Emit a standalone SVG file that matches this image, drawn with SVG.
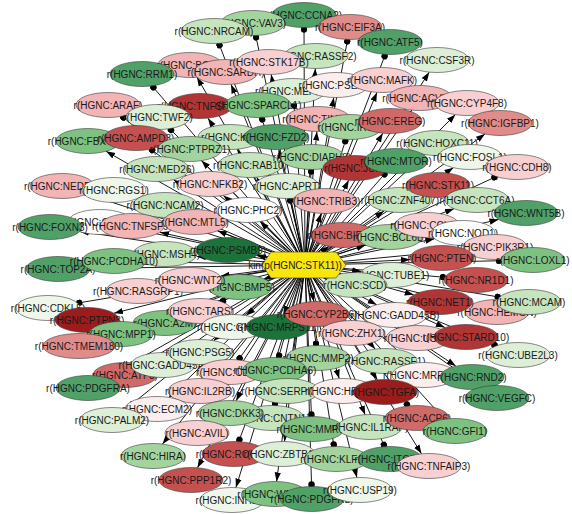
<svg xmlns="http://www.w3.org/2000/svg" width="572" height="514" viewBox="0 0 572 514">
<style>
.bg{fill:#ffffff}
#edges line{stroke:#000;stroke-width:0.9}
#edges line.a{marker-end:url(#ar)}
#edges line.d{marker-end:url(#dt)}
.n ellipse{stroke:#3a3a3a;stroke-width:0.6}
.n text{font-family:"Liberation Sans",Arial,sans-serif;font-size:10px;fill:#1a1a1a;text-anchor:middle}
.k0{fill:#1b733a}.k1{fill:#50a168}.k2{fill:#7dc280}.k3{fill:#a3d49e}.k4{fill:#c6e5bf}.k5{fill:#ddefd7}.k6{fill:#eef7ea}.k7{fill:#fdfdfd}
.k8{fill:#fdeeee}.k9{fill:#f9d0d1}.k10{fill:#f2b4b4}.k11{fill:#e08c8a}.k12{fill:#d06a68}.k13{fill:#c4514f}.k14{fill:#b23535}.k15{fill:#9c1c1c}
#hub path{fill:#f8e60c;stroke:#3a3a3a;stroke-width:0.6}
#hub text{font-family:"Liberation Sans",Arial,sans-serif;font-size:10px;fill:#1a1a1a;text-anchor:middle}
</style>
<defs>
<marker id="ar" viewBox="0 0 10 10" refX="10" refY="5" markerWidth="9" markerHeight="9" markerUnits="userSpaceOnUse" orient="auto"><path d="M0,1.5L10,5L0,8.5z" fill="#000"/></marker>
<marker id="dt" viewBox="0 0 10 10" refX="8" refY="5" markerWidth="6.5" markerHeight="6.5" markerUnits="userSpaceOnUse" orient="auto"><circle cx="5" cy="5" r="5" fill="#000"/></marker>
</defs>
<rect class="bg" width="572" height="514"/>
<g id="edges">
<line class="d" x1="305" y1="265" x2="218.8" y2="43.4"/>
<line class="d" x1="305" y1="265" x2="255.7" y2="35.5"/>
<line class="d" x1="305" y1="265" x2="304" y2="27.5"/>
<line class="d" x1="305" y1="265" x2="347.6" y2="39.5"/>
<line class="d" x1="305" y1="265" x2="385.3" y2="54.4"/>
<line class="a" x1="305" y1="265" x2="429.2" y2="72.2"/>
<line class="a" x1="305" y1="265" x2="376.9" y2="92.4"/>
<line class="a" x1="305" y1="265" x2="411.7" y2="110.1"/>
<line class="a" x1="305" y1="265" x2="455.4" y2="114.6"/>
<line class="a" x1="305" y1="265" x2="485" y2="134"/>
<line class="a" x1="305" y1="265" x2="382.8" y2="133.2"/>
<line class="a" x1="305" y1="265" x2="197" y2="77.2"/>
<line class="d" x1="305" y1="265" x2="152.1" y2="85.9"/>
<line class="d" x1="305" y1="265" x2="121.9" y2="116.3"/>
<line class="d" x1="305" y1="265" x2="169.6" y2="128.6"/>
<line class="a" x1="305" y1="265" x2="208" y2="118.2"/>
<line class="d" x1="305" y1="265" x2="261.7" y2="117.5"/>
<line class="a" x1="305" y1="265" x2="231.1" y2="84.4"/>
<line class="a" x1="305" y1="265" x2="271.2" y2="74.5"/>
<line class="a" x1="305" y1="265" x2="315.3" y2="68.5"/>
<line class="d" x1="305" y1="265" x2="293.9" y2="103.5"/>
<line class="a" x1="305" y1="265" x2="333.8" y2="97.5"/>
<line class="a" x1="305" y1="265" x2="316.9" y2="131.5"/>
<line class="d" x1="305" y1="265" x2="345.9" y2="139.4"/>
<line class="a" x1="305" y1="265" x2="237.2" y2="149.3"/>
<line class="a" x1="305" y1="265" x2="278.8" y2="149.5"/>
<line class="a" x1="305" y1="265" x2="201.5" y2="160.6"/>
<line class="d" x1="305" y1="265" x2="150.6" y2="149"/>
<line class="a" x1="305" y1="265" x2="106.1" y2="151.3"/>
<line class="a" x1="305" y1="265" x2="173.6" y2="179.8"/>
<line class="a" x1="305" y1="265" x2="86.5" y2="194"/>
<line class="a" x1="305" y1="265" x2="136.6" y2="198.9"/>
<line class="a" x1="305" y1="265" x2="186.6" y2="214.3"/>
<line class="a" x1="305" y1="265" x2="223.3" y2="195.4"/>
<line class="a" x1="305" y1="265" x2="256.7" y2="177.3"/>
<line class="d" x1="305" y1="265" x2="311.2" y2="169.5"/>
<line class="a" x1="305" y1="265" x2="348.7" y2="180.3"/>
<line class="d" x1="305" y1="265" x2="385.7" y2="172.8"/>
<line class="d" x1="305" y1="265" x2="289.8" y2="198.5"/>
<line class="a" x1="305" y1="265" x2="321.1" y2="213.4"/>
<line class="a" x1="305" y1="265" x2="384" y2="211"/>
<line class="a" x1="305" y1="265" x2="260" y2="221.5"/>
<line class="a" x1="305" y1="265" x2="217.6" y2="230.8"/>
<line class="a" x1="305" y1="265" x2="256.8" y2="255.6"/>
<line class="a" x1="305" y1="265" x2="328.8" y2="246.2"/>
<line class="a" x1="305" y1="265" x2="365.5" y2="245.1"/>
<line class="a" x1="305" y1="265" x2="424.5" y2="154.5"/>
<line class="a" x1="305" y1="265" x2="453.4" y2="167.8"/>
<line class="d" x1="305" y1="265" x2="496.2" y2="176.6"/>
<line class="a" x1="305" y1="265" x2="420.5" y2="195.5"/>
<line class="a" x1="305" y1="265" x2="454" y2="208.7"/>
<line class="a" x1="305" y1="265" x2="498.5" y2="219.5"/>
<line class="a" x1="305" y1="265" x2="402.5" y2="233"/>
<line class="a" x1="305" y1="265" x2="434.5" y2="238.8"/>
<line class="a" x1="305" y1="265" x2="463.9" y2="249.9"/>
<line class="d" x1="305" y1="265" x2="501" y2="260.7"/>
<line class="a" x1="305" y1="265" x2="410" y2="259.6"/>
<line class="d" x1="305" y1="265" x2="444.8" y2="277.3"/>
<line class="a" x1="305" y1="265" x2="361.2" y2="271.5"/>
<line class="a" x1="305" y1="265" x2="413.7" y2="294.8"/>
<line class="d" x1="305" y1="265" x2="499.6" y2="297.1"/>
<line class="a" x1="305" y1="265" x2="469.8" y2="305.3"/>
<line class="a" x1="305" y1="265" x2="376.6" y2="304.8"/>
<line class="a" x1="305" y1="265" x2="401.4" y2="327.2"/>
<line class="a" x1="305" y1="265" x2="444.8" y2="327.5"/>
<line class="d" x1="305" y1="265" x2="496.3" y2="345.8"/>
<line class="a" x1="305" y1="265" x2="343.6" y2="320.8"/>
<line class="a" x1="305" y1="265" x2="375.1" y2="349.1"/>
<line class="a" x1="305" y1="265" x2="411.5" y2="363.5"/>
<line class="a" x1="305" y1="265" x2="455.8" y2="366.1"/>
<line class="a" x1="305" y1="265" x2="377.3" y2="379.8"/>
<line class="a" x1="305" y1="265" x2="481.1" y2="387"/>
<line class="d" x1="305" y1="265" x2="408.1" y2="405.9"/>
<line class="a" x1="305" y1="265" x2="444.3" y2="419.2"/>
<line class="a" x1="305" y1="265" x2="365.1" y2="414.7"/>
<line class="d" x1="305" y1="265" x2="384.6" y2="446.7"/>
<line class="a" x1="305" y1="265" x2="421.5" y2="453.8"/>
<line class="a" x1="305" y1="265" x2="356.9" y2="477.5"/>
<line class="a" x1="305" y1="265" x2="209.9" y2="379.1"/>
<line class="a" x1="305" y1="265" x2="288.8" y2="378.4"/>
<line class="a" x1="305" y1="265" x2="339.2" y2="378.6"/>
<line class="a" x1="305" y1="265" x2="236.2" y2="400.7"/>
<line class="d" x1="305" y1="265" x2="274.7" y2="405.5"/>
<line class="d" x1="305" y1="265" x2="311.5" y2="416.5"/>
<line class="a" x1="305" y1="265" x2="204.8" y2="420.8"/>
<line class="d" x1="305" y1="265" x2="238.7" y2="441.6"/>
<line class="a" x1="305" y1="265" x2="284.5" y2="441.6"/>
<line class="d" x1="305" y1="265" x2="334" y2="446.5"/>
<line class="a" x1="305" y1="265" x2="197.5" y2="467.7"/>
<line class="a" x1="305" y1="265" x2="162.5" y2="444"/>
<line class="a" x1="305" y1="265" x2="126" y2="408.8"/>
<line class="a" x1="305" y1="265" x2="168.9" y2="397.4"/>
<line class="a" x1="305" y1="265" x2="106.2" y2="377.7"/>
<line class="a" x1="305" y1="265" x2="142.2" y2="364.5"/>
<line class="a" x1="305" y1="265" x2="235.9" y2="487.6"/>
<line class="a" x1="305" y1="265" x2="276.6" y2="481.4"/>
<line class="d" x1="305" y1="265" x2="311.6" y2="486.5"/>
<line class="a" x1="305" y1="265" x2="90" y2="268.5"/>
<line class="a" x1="305" y1="265" x2="146" y2="261.7"/>
<line class="a" x1="305" y1="265" x2="196.9" y2="256.5"/>
<line class="a" x1="305" y1="265" x2="220.7" y2="276"/>
<line class="a" x1="305" y1="265" x2="167.7" y2="286.4"/>
<line class="d" x1="305" y1="265" x2="77.4" y2="303.1"/>
<line class="a" x1="305" y1="265" x2="114" y2="313.2"/>
<line class="a" x1="305" y1="265" x2="144" y2="325.4"/>
<line class="a" x1="305" y1="265" x2="187" y2="313.9"/>
<line class="d" x1="305" y1="265" x2="221.3" y2="301.7"/>
<line class="a" x1="305" y1="265" x2="102.5" y2="337.6"/>
<line class="a" x1="305" y1="265" x2="178.6" y2="354"/>
<line class="a" x1="305" y1="265" x2="213.6" y2="340.7"/>
<line class="a" x1="305" y1="265" x2="264" y2="278.8"/>
<line class="a" x1="305" y1="265" x2="332.7" y2="276.1"/>
<line class="a" x1="305" y1="265" x2="313.9" y2="301.5"/>
<line class="a" x1="305" y1="265" x2="283.4" y2="314.7"/>
<line class="a" x1="305" y1="265" x2="246.2" y2="315.6"/>
<line class="d" x1="305" y1="265" x2="316.3" y2="345.6"/>
<line class="d" x1="305" y1="265" x2="278.6" y2="357.5"/>
<line class="d" x1="305" y1="265" x2="238.5" y2="359.9"/>
<line class="a" x1="305" y1="265" x2="79.9" y2="231.4"/>
<line class="a" x1="305" y1="265" x2="128.4" y2="227.9"/>
<line class="a" x1="305" y1="265" x2="160" y2="232.3"/>
</g>
<g id="nodes">
<g class="n" id="n-CCNA2"><ellipse class="k1" cx="304" cy="15" rx="32" ry="12.5"/><text x="304" y="18.5">r(HGNC:CCNA2)</text></g>
<g class="n" id="n-VAV3"><ellipse class="k3" cx="253" cy="23" rx="32" ry="12.5"/><text x="253" y="26.5">r(HGNC:VAV3)</text></g>
<g class="n" id="n-NRCAM"><ellipse class="k4" cx="214" cy="31" rx="33" ry="12.5"/><text x="214" y="34.5">r(HGNC:NRCAM)</text></g>
<g class="n" id="n-EIF3A"><ellipse class="k11" cx="350" cy="27" rx="32" ry="12.5"/><text x="350" y="30.5">r(HGNC:EIF3A)</text></g>
<g class="n" id="n-ATF5"><ellipse class="k1" cx="390" cy="42" rx="32" ry="12.5"/><text x="390" y="45.5">r(HGNC:ATF5)</text></g>
<g class="n" id="n-CSF3R"><ellipse class="k5" cx="437" cy="60" rx="32" ry="12.5"/><text x="437" y="63.5">r(HGNC:CSF3R)</text></g>
<g class="n" id="n-BCL2"><ellipse class="k10" cx="190" cy="65" rx="32" ry="12.5"/><text x="190" y="68.5">r(HGNC:BCL2)</text></g>
<g class="n" id="n-RRM1"><ellipse class="k1" cx="142" cy="74" rx="32" ry="12.5"/><text x="142" y="77.5">r(HGNC:RRM1)</text></g>
<g class="n" id="n-SARDH"><ellipse class="k10" cx="226" cy="72" rx="32" ry="12.5"/><text x="226" y="75.5">r(HGNC:SARDH)</text></g>
<g class="n" id="n-RASSF2"><ellipse class="k4" cx="316" cy="56" rx="32" ry="12.5"/><text x="316" y="59.5">r(HGNC:RASSF2)</text></g>
<g class="n" id="n-STK17B"><ellipse class="k9" cx="269" cy="62" rx="32" ry="12.5"/><text x="269" y="65.5">r(HGNC:STK17B)</text></g>
<g class="n" id="n-MEF2C"><ellipse class="k5" cx="293" cy="91" rx="32" ry="12.5"/><text x="293" y="94.5">r(HGNC:MEF2C)</text></g>
<g class="n" id="n-PSEN1"><ellipse class="k8" cx="336" cy="85" rx="32" ry="12.5"/><text x="336" y="88.5">r(HGNC:PSEN1)</text></g>
<g class="n" id="n-MAFK"><ellipse class="k9" cx="382" cy="80" rx="32" ry="12.5"/><text x="382" y="83.5">r(HGNC:MAFK)</text></g>
<g class="n" id="n-ACVR1"><ellipse class="k10" cx="420" cy="98" rx="32" ry="12.5"/><text x="420" y="101.5">r(HGNC:ACVR1)</text></g>
<g class="n" id="n-CYP4F8"><ellipse class="k9" cx="467" cy="103" rx="32" ry="12.5"/><text x="467" y="106.5">r(HGNC:CYP4F8)</text></g>
<g class="n" id="n-IGFBP1"><ellipse class="k11" cx="500" cy="123" rx="32" ry="12.5"/><text x="500" y="126.5">r(HGNC:IGFBP1)</text></g>
<g class="n" id="n-ARAF"><ellipse class="k10" cx="108" cy="105" rx="32" ry="12.5"/><text x="108" y="108.5">r(HGNC:ARAF)</text></g>
<g class="n" id="n-TNFSF10"><ellipse class="k14" cx="200" cy="106" rx="32" ry="12.5"/><text x="200" y="109.5">r(HGNC:TNFSF10)</text></g>
<g class="n" id="n-TWF2"><ellipse class="k5" cx="158" cy="117" rx="32" ry="12.5"/><text x="158" y="120.5">r(HGNC:TWF2)</text></g>
<g class="n" id="n-SPARCL1"><ellipse class="k2" cx="258" cy="105" rx="33" ry="12.5"/><text x="258" y="108.5">r(HGNC:SPARCL1)</text></g>
<g class="n" id="n-TIMP3"><ellipse class="k10" cx="318" cy="119" rx="32" ry="12.5"/><text x="318" y="122.5">r(HGNC:TIMP3)</text></g>
<g class="n" id="n-IRS1"><ellipse class="k3" cx="350" cy="127" rx="32" ry="12.5"/><text x="350" y="130.5">r(HGNC:IRS1)</text></g>
<g class="n" id="n-EREG"><ellipse class="k12" cx="390" cy="121" rx="32" ry="12.5"/><text x="390" y="124.5">r(HGNC:EREG)</text></g>
<g class="n" id="n-FBXO32"><ellipse class="k2" cx="88" cy="141" rx="32" ry="12.5"/><text x="88" y="144.5">r(HGNC:FBXO32)</text></g>
<g class="n" id="n-AMPD3"><ellipse class="k13" cx="136" cy="138" rx="32" ry="12.5"/><text x="136" y="141.5">r(HGNC:AMPD3)</text></g>
<g class="n" id="n-KIT"><ellipse class="k4" cx="230" cy="137" rx="32" ry="12.5"/><text x="230" y="140.5">r(HGNC:KIT)</text></g>
<g class="n" id="n-FZD2"><ellipse class="k1" cx="276" cy="137" rx="32" ry="12.5"/><text x="276" y="140.5">r(HGNC:FZD2)</text></g>
<g class="n" id="n-PTPRZ1"><ellipse class="k3" cx="190" cy="149" rx="32" ry="12.5"/><text x="190" y="152.5">r(HGNC:PTPRZ1)</text></g>
<g class="n" id="n-HOXC11"><ellipse class="k4" cx="437" cy="143" rx="32" ry="12.5"/><text x="437" y="146.5">r(HGNC:HOXC11)</text></g>
<g class="n" id="n-FOSL1"><ellipse class="k6" cx="470" cy="157" rx="32" ry="12.5"/><text x="470" y="160.5">r(HGNC:FOSL1)</text></g>
<g class="n" id="n-CDH8"><ellipse class="k9" cx="517" cy="167" rx="32" ry="12.5"/><text x="517" y="170.5">r(HGNC:CDH8)</text></g>
<g class="n" id="n-MED26"><ellipse class="k4" cx="157" cy="169" rx="32" ry="12.5"/><text x="157" y="172.5">r(HGNC:MED26)</text></g>
<g class="n" id="n-RAB10"><ellipse class="k4" cx="250" cy="165" rx="32" ry="12.5"/><text x="250" y="168.5">r(HGNC:RAB10)</text></g>
<g class="n" id="n-DIAPH3"><ellipse class="k3" cx="312" cy="157" rx="32" ry="12.5"/><text x="312" y="160.5">r(HGNC:DIAPH3)</text></g>
<g class="n" id="n-JUN"><ellipse class="k14" cx="355" cy="168" rx="32" ry="12.5"/><text x="355" y="171.5">r(HGNC:JUN)</text></g>
<g class="n" id="n-MTOR"><ellipse class="k1" cx="396" cy="161" rx="32" ry="12.5"/><text x="396" y="164.5">r(HGNC:MTOR)</text></g>
<g class="n" id="n-NEDD9"><ellipse class="k10" cx="62" cy="186" rx="32" ry="12.5"/><text x="62" y="189.5">r(HGNC:NEDD9)</text></g>
<g class="n" id="n-RGS1"><ellipse class="k6" cx="114" cy="190" rx="32" ry="12.5"/><text x="114" y="193.5">r(HGNC:RGS1)</text></g>
<g class="n" id="n-NCAM2"><ellipse class="k4" cx="165" cy="205" rx="32" ry="12.5"/><text x="165" y="208.5">r(HGNC:NCAM2)</text></g>
<g class="n" id="n-NFKB2"><ellipse class="k9" cx="210" cy="184" rx="32" ry="12.5"/><text x="210" y="187.5">r(HGNC:NFKB2)</text></g>
<g class="n" id="n-APRT"><ellipse class="k5" cx="287" cy="186" rx="32" ry="12.5"/><text x="287" y="189.5">r(HGNC:APRT)</text></g>
<g class="n" id="n-TRIB3"><ellipse class="k10" cx="325" cy="201" rx="32" ry="12.5"/><text x="325" y="204.5">r(HGNC:TRIB3)</text></g>
<g class="n" id="n-ZNF407"><ellipse class="k4" cx="400" cy="200" rx="32" ry="12.5"/><text x="400" y="203.5">r(HGNC:ZNF407)</text></g>
<g class="n" id="n-STK11"><ellipse class="k13" cx="438" cy="185" rx="32" ry="12.5"/><text x="438" y="188.5">r(HGNC:STK11)</text></g>
<g class="n" id="n-CCT6A"><ellipse class="k4" cx="477" cy="200" rx="32" ry="12.5"/><text x="477" y="203.5">r(HGNC:CCT6A)</text></g>
<g class="n" id="n-WNT5B"><ellipse class="k1" cx="526" cy="213" rx="32" ry="12.5"/><text x="526" y="216.5">r(HGNC:WNT5B)</text></g>
<g class="n" id="n-CFLAR"><ellipse class="k7" cx="100" cy="222" rx="32" ry="12.5"/><text x="100" y="225.5">r(HGNC:CFLAR)</text></g>
<g class="n" id="n-FOXN3"><ellipse class="k1" cx="50" cy="227" rx="32" ry="12.5"/><text x="50" y="230.5">r(HGNC:FOXN3)</text></g>
<g class="n" id="n-TNFSF9"><ellipse class="k10" cx="132" cy="226" rx="32" ry="12.5"/><text x="132" y="229.5">r(HGNC:TNFSF9)</text></g>
<g class="n" id="n-MTL5"><ellipse class="k10" cx="195" cy="222" rx="32" ry="12.5"/><text x="195" y="225.5">r(HGNC:MTL5)</text></g>
<g class="n" id="n-PHC2"><ellipse class="k7" cx="248" cy="210" rx="32" ry="12.5"/><text x="248" y="213.5">r(HGNC:PHC2)</text></g>
<g class="n" id="n-MSH4"><ellipse class="k4" cx="165" cy="254" rx="32" ry="12.5"/><text x="165" y="257.5">r(HGNC:MSH4)</text></g>
<g class="n" id="n-PSMB9"><ellipse class="k0" cx="228" cy="250" rx="32" ry="12.5"/><text x="228" y="253.5">r(HGNC:PSMB9)</text></g>
<g class="n" id="n-BIRC3"><ellipse class="k12" cx="343" cy="235" rx="32" ry="12.5"/><text x="343" y="238.5">r(HGNC:BIRC3)</text></g>
<g class="n" id="n-BCL6B"><ellipse class="k3" cx="390" cy="237" rx="32" ry="12.5"/><text x="390" y="240.5">r(HGNC:BCL6B)</text></g>
<g class="n" id="n-CCL18"><ellipse class="k9" cx="427" cy="225" rx="32" ry="12.5"/><text x="427" y="228.5">r(HGNC:CCL18)</text></g>
<g class="n" id="n-NOD1"><ellipse class="k7" cx="463" cy="233" rx="32" ry="12.5"/><text x="463" y="236.5">r(HGNC:NOD1)</text></g>
<g class="n" id="n-PIK3R1"><ellipse class="k9" cx="495" cy="247" rx="32" ry="12.5"/><text x="495" y="250.5">r(HGNC:PIK3R1)</text></g>
<g class="n" id="n-LOXL1"><ellipse class="k2" cx="533" cy="260" rx="32" ry="12.5"/><text x="533" y="263.5">r(HGNC:LOXL1)</text></g>
<g class="n" id="n-PTEN"><ellipse class="k13" cx="442" cy="258" rx="32" ry="12.5"/><text x="442" y="261.5">r(HGNC:PTEN)</text></g>
<g class="n" id="n-TOP2A"><ellipse class="k1" cx="58" cy="269" rx="32" ry="12.5"/><text x="58" y="272.5">r(HGNC:TOP2A)</text></g>
<g class="n" id="n-PCDHA10"><ellipse class="k2" cx="114" cy="261" rx="32" ry="12.5"/><text x="114" y="264.5">r(HGNC:PCDHA10)</text></g>
<g class="n" id="n-TUBE1"><ellipse class="k5" cx="392" cy="275" rx="32" ry="12.5"/><text x="392" y="278.5">r(HGNC:TUBE1)</text></g>
<g class="n" id="n-NR1D1"><ellipse class="k13" cx="476" cy="280" rx="32" ry="12.5"/><text x="476" y="283.5">r(HGNC:NR1D1)</text></g>
<g class="n" id="n-SCD"><ellipse class="k4" cx="355" cy="285" rx="32" ry="12.5"/><text x="355" y="288.5">r(HGNC:SCD)</text></g>
<g class="n" id="n-BMP5"><ellipse class="k2" cx="240" cy="287" rx="32" ry="12.5"/><text x="240" y="290.5">r(HGNC:BMP5)</text></g>
<g class="n" id="n-RASGRP1"><ellipse class="k9" cx="138" cy="291" rx="32" ry="12.5"/><text x="138" y="294.5">r(HGNC:RASGRP1)</text></g>
<g class="n" id="n-WNT2"><ellipse class="k9" cx="190" cy="280" rx="32" ry="12.5"/><text x="190" y="283.5">r(HGNC:WNT2)</text></g>
<g class="n" id="n-CDKL5"><ellipse class="k6" cx="48" cy="308" rx="32" ry="12.5"/><text x="48" y="311.5">r(HGNC:CDKL5)</text></g>
<g class="n" id="n-PTPN3"><ellipse class="k15" cx="87" cy="320" rx="32" ry="12.5"/><text x="87" y="323.5">r(HGNC:PTPN3)</text></g>
<g class="n" id="n-A2M"><ellipse class="k2" cx="165" cy="323" rx="32" ry="12.5"/><text x="165" y="326.5">r(HGNC:A2M)</text></g>
<g class="n" id="n-MPP1"><ellipse class="k2" cx="121" cy="334" rx="32" ry="12.5"/><text x="121" y="337.5">r(HGNC:MPP1)</text></g>
<g class="n" id="n-TARS"><ellipse class="k9" cx="200" cy="311" rx="32" ry="12.5"/><text x="200" y="314.5">r(HGNC:TARS)</text></g>
<g class="n" id="n-TMEM180"><ellipse class="k11" cx="79" cy="346" rx="36" ry="12.5"/><text x="79" y="349.5">r(HGNC:TMEM180)</text></g>
<g class="n" id="n-HEMGN"><ellipse class="k10" cx="497" cy="312" rx="32" ry="12.5"/><text x="497" y="315.5">r(HGNC:HEMGN)</text></g>
<g class="n" id="n-NET1"><ellipse class="k14" cx="440" cy="302" rx="32" ry="12.5"/><text x="440" y="305.5">r(HGNC:NET1)</text></g>
<g class="n" id="n-MCAM"><ellipse class="k4" cx="529" cy="302" rx="32" ry="12.5"/><text x="529" y="305.5">r(HGNC:MCAM)</text></g>
<g class="n" id="n-GADD45B"><ellipse class="k8" cx="395" cy="315" rx="32" ry="12.5"/><text x="395" y="318.5">r(HGNC:GADD45B)</text></g>
<g class="n" id="n-GNAI1"><ellipse class="k6" cx="233" cy="327" rx="32" ry="12.5"/><text x="233" y="330.5">r(HGNC:GNAI1)</text></g>
<g class="n" id="n-MRPS11"><ellipse class="k0" cx="278" cy="327" rx="32" ry="12.5"/><text x="278" y="330.5">r(HGNC:MRPS11)</text></g>
<g class="n" id="n-CYP2B6"><ellipse class="k12" cx="317" cy="314" rx="32" ry="12.5"/><text x="317" y="317.5">r(HGNC:CYP2B6)</text></g>
<g class="n" id="n-ZHX1"><ellipse class="k9" cx="352" cy="333" rx="32" ry="12.5"/><text x="352" y="336.5">r(HGNC:ZHX1)</text></g>
<g class="n" id="n-USP2"><ellipse class="k9" cx="418" cy="338" rx="32" ry="12.5"/><text x="418" y="341.5">r(HGNC:USP2)</text></g>
<g class="n" id="n-STARD10"><ellipse class="k14" cx="466" cy="337" rx="32" ry="12.5"/><text x="466" y="340.5">r(HGNC:STARD10)</text></g>
<g class="n" id="n-UBE2L3"><ellipse class="k5" cx="518" cy="355" rx="32" ry="12.5"/><text x="518" y="358.5">r(HGNC:UBE2L3)</text></g>
<g class="n" id="n-ATF3"><ellipse class="k12" cx="125" cy="375" rx="32" ry="12.5"/><text x="125" y="378.5">r(HGNC:ATF3)</text></g>
<g class="n" id="n-GADD45A"><ellipse class="k5" cx="163" cy="365" rx="32" ry="12.5"/><text x="163" y="368.5">r(HGNC:GADD45A)</text></g>
<g class="n" id="n-PSG5"><ellipse class="k5" cx="200" cy="352" rx="32" ry="12.5"/><text x="200" y="355.5">r(HGNC:PSG5)</text></g>
<g class="n" id="n-CD44"><ellipse class="k9" cx="230" cy="372" rx="32" ry="12.5"/><text x="230" y="375.5">r(HGNC:CD44)</text></g>
<g class="n" id="n-MMP2"><ellipse class="k3" cx="318" cy="358" rx="32" ry="12.5"/><text x="318" y="361.5">r(HGNC:MMP2)</text></g>
<g class="n" id="n-PCDHA6"><ellipse class="k2" cx="275" cy="370" rx="32" ry="12.5"/><text x="275" y="373.5">r(HGNC:PCDHA6)</text></g>
<g class="n" id="n-RASSF1"><ellipse class="k4" cx="385" cy="361" rx="32" ry="12.5"/><text x="385" y="364.5">r(HGNC:RASSF1)</text></g>
<g class="n" id="n-MRPS10"><ellipse class="k8" cx="424" cy="375" rx="32" ry="12.5"/><text x="424" y="378.5">r(HGNC:MRPS10)</text></g>
<g class="n" id="n-RND2"><ellipse class="k1" cx="472" cy="377" rx="32" ry="12.5"/><text x="472" y="380.5">r(HGNC:RND2)</text></g>
<g class="n" id="n-PDGFRA"><ellipse class="k1" cx="88" cy="388" rx="32" ry="12.5"/><text x="88" y="391.5">r(HGNC:PDGFRA)</text></g>
<g class="n" id="n-IL2RB"><ellipse class="k9" cx="200" cy="391" rx="32" ry="12.5"/><text x="200" y="394.5">r(HGNC:IL2RB)</text></g>
<g class="n" id="n-SERPINE1"><ellipse class="k4" cx="287" cy="391" rx="32" ry="12.5"/><text x="287" y="394.5">r(HGNC:SERPINE1)</text></g>
<g class="n" id="n-HDAC9"><ellipse class="k8" cx="343" cy="391" rx="32" ry="12.5"/><text x="343" y="394.5">r(HGNC:HDAC9)</text></g>
<g class="n" id="n-TGFA"><ellipse class="k15" cx="385" cy="392" rx="32" ry="12.5"/><text x="385" y="395.5">r(HGNC:TGFA)</text></g>
<g class="n" id="n-VEGFC"><ellipse class="k1" cx="497" cy="398" rx="32" ry="12.5"/><text x="497" y="401.5">r(HGNC:VEGFC)</text></g>
<g class="n" id="n-ECM2"><ellipse class="k8" cx="157" cy="409" rx="32" ry="12.5"/><text x="157" y="412.5">r(HGNC:ECM2)</text></g>
<g class="n" id="n-PALM2"><ellipse class="k5" cx="112" cy="420" rx="32" ry="12.5"/><text x="112" y="423.5">r(HGNC:PALM2)</text></g>
<g class="n" id="n-CNTN1"><ellipse class="k4" cx="272" cy="418" rx="32" ry="12.5"/><text x="272" y="421.5">r(HGNC:CNTN1)</text></g>
<g class="n" id="n-DKK3"><ellipse class="k3" cx="230" cy="413" rx="32" ry="12.5"/><text x="230" y="416.5">r(HGNC:DKK3)</text></g>
<g class="n" id="n-AVIL"><ellipse class="k9" cx="197" cy="433" rx="32" ry="12.5"/><text x="197" y="436.5">r(HGNC:AVIL)</text></g>
<g class="n" id="n-MMP9"><ellipse class="k2" cx="312" cy="429" rx="32" ry="12.5"/><text x="312" y="432.5">r(HGNC:MMP9)</text></g>
<g class="n" id="n-IL1RAP"><ellipse class="k4" cx="370" cy="427" rx="32" ry="12.5"/><text x="370" y="430.5">r(HGNC:IL1RAP)</text></g>
<g class="n" id="n-ACP6"><ellipse class="k12" cx="417" cy="418" rx="32" ry="12.5"/><text x="417" y="421.5">r(HGNC:ACP6)</text></g>
<g class="n" id="n-GFI1"><ellipse class="k2" cx="455" cy="431" rx="32" ry="12.5"/><text x="455" y="434.5">r(HGNC:GFI1)</text></g>
<g class="n" id="n-ROCK2"><ellipse class="k13" cx="234" cy="454" rx="32" ry="12.5"/><text x="234" y="457.5">r(HGNC:ROCK2)</text></g>
<g class="n" id="n-ZBTB16"><ellipse class="k5" cx="283" cy="454" rx="32" ry="12.5"/><text x="283" y="457.5">r(HGNC:ZBTB16)</text></g>
<g class="n" id="n-KLF12"><ellipse class="k3" cx="336" cy="459" rx="32" ry="12.5"/><text x="336" y="462.5">r(HGNC:KLF12)</text></g>
<g class="n" id="n-ITGB8"><ellipse class="k1" cx="390" cy="459" rx="32" ry="12.5"/><text x="390" y="462.5">r(HGNC:ITGB8)</text></g>
<g class="n" id="n-TNFAIP3"><ellipse class="k9" cx="429" cy="466" rx="32" ry="12.5"/><text x="429" y="469.5">r(HGNC:TNFAIP3)</text></g>
<g class="n" id="n-HIRA"><ellipse class="k3" cx="153" cy="456" rx="32" ry="12.5"/><text x="153" y="459.5">r(HGNC:HIRA)</text></g>
<g class="n" id="n-PPP1R2"><ellipse class="k13" cx="191" cy="480" rx="32" ry="12.5"/><text x="191" y="483.5">r(HGNC:PPP1R2)</text></g>
<g class="n" id="n-INHBA"><ellipse class="k6" cx="232" cy="500" rx="32" ry="12.5"/><text x="232" y="503.5">r(HGNC:INHBA)</text></g>
<g class="n" id="n-WNT11"><ellipse class="k2" cx="275" cy="494" rx="32" ry="12.5"/><text x="275" y="497.5">r(HGNC:WNT11)</text></g>
<g class="n" id="n-PDGFRL"><ellipse class="k1" cx="312" cy="499" rx="32" ry="12.5"/><text x="312" y="502.5">r(HGNC:PDGFRL)</text></g>
<g class="n" id="n-USP19"><ellipse class="k6" cx="360" cy="490" rx="32" ry="12.5"/><text x="360" y="493.5">r(HGNC:USP19)</text></g>
</g>
<g id="hub"><path d="M271,252L336,252L346,265L336,278L271,278L262,265Z"/><text x="295" y="268.5">kin(p(HGNC:STK11))</text></g>
</svg>
